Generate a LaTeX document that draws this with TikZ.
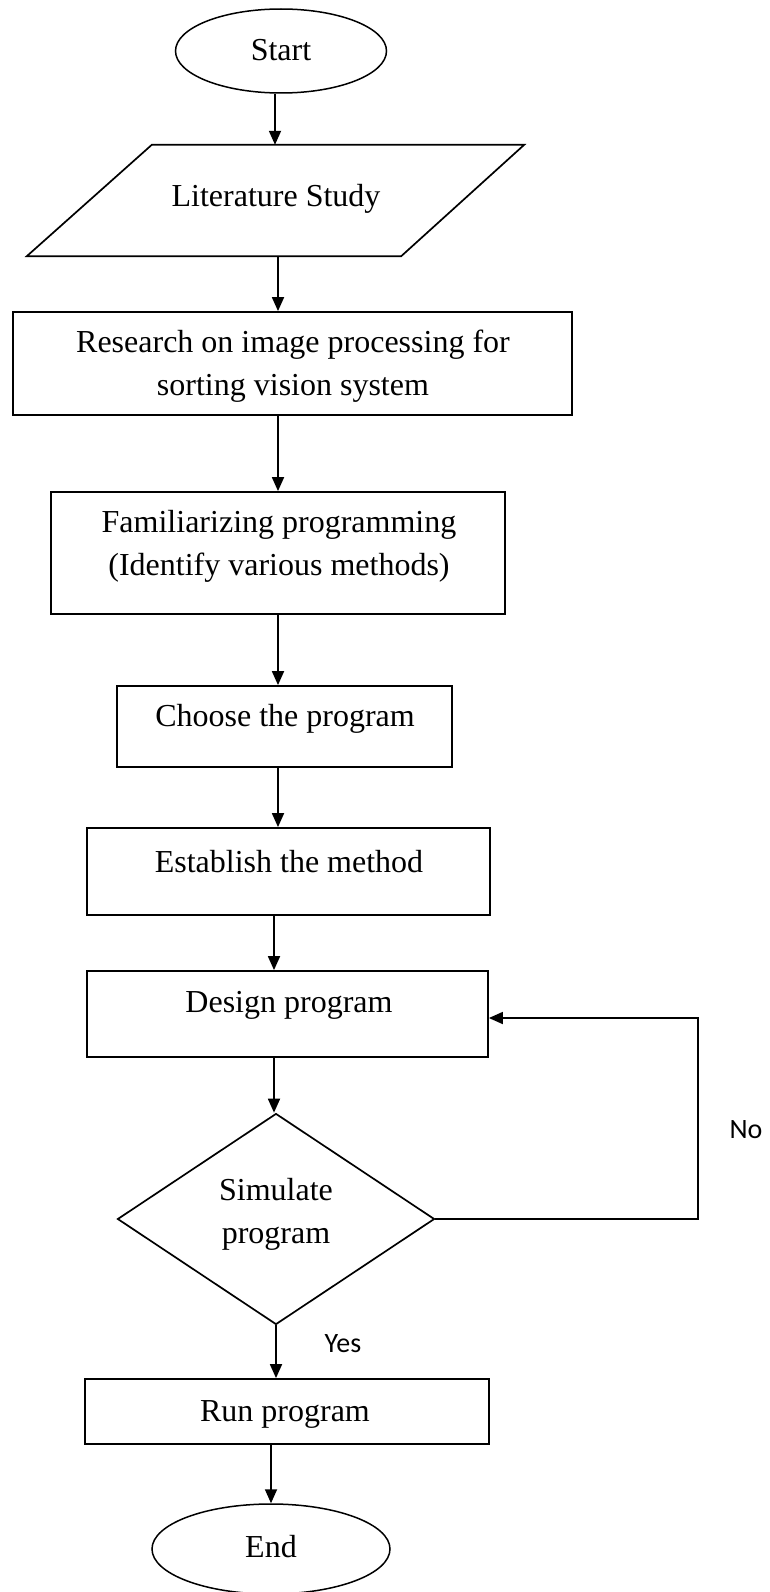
\documentclass[tikz,border=0pt]{standalone}
\usepackage{fontspec}
\setmainfont{Liberation Serif}
\newfontfamily\ynfont{Carlito}
\usetikzlibrary{arrows.meta,shapes.geometric}
\begin{document}
\begin{tikzpicture}[x=1pt,y=-1pt,
  term/.style={draw, ellipse, line width=1.5pt, inner sep=0pt},
  box/.style={draw, rectangle, line width=1.8pt, inner sep=0pt},
  dec/.style={draw, diamond, line width=1.7pt, inner sep=0pt},
  txt/.style={font=\fontsize{32}{43}\selectfont, align=center, inner sep=0pt},
  yn/.style={font=\ynfont\fontsize{28}{34}\selectfont, inner sep=0pt},
  arr/.style={line width=1.8pt, -{Triangle[length=14pt,width=12pt]}},
  flow/.style={line width=1.7pt}]
\useasboundingbox (0,0) rectangle (769,1592);
\fill[white] (0,0) rectangle (769,1592);

% shapes
\node[term, minimum width=211pt, minimum height=84pt] (start) at (281,51) {};
\node[inner sep=0pt, minimum width=497pt, minimum height=111pt] (lit) at (275.5,200.5) {};
\draw[flow] ([xshift=125pt]lit.north west) -- (lit.north east)
  -- ([xshift=-123pt]lit.south east) -- (lit.south west) -- cycle;
\node[box, minimum width=559pt, minimum height=103pt] (research) at (292.5,363.5) {};
\node[box, minimum width=454pt, minimum height=122pt] (fam) at (278,553) {};
\node[box, minimum width=335pt, minimum height=81pt] (choose) at (284.5,726.5) {};
\node[box, minimum width=403pt, minimum height=87pt] (establish) at (288.5,871.5) {};
\node[box, minimum width=401pt, minimum height=86pt] (design) at (287.5,1014) {};
\node[dec, minimum width=317pt, minimum height=211pt] (diam) at (276,1219) {};
\node[box, minimum width=404pt, minimum height=65pt] (run) at (287,1411.5) {};
\node[term, minimum width=238pt, minimum height=90pt] (end) at (271,1549) {};

% texts
\node[txt] (startT) at (281,50) {Start};
\node[txt] (litT) at (276,199) {Literature Study};
\node[txt] (researchT) at (293,366) {Research on image processing for\\sorting vision system};
\node[txt] (famT) at (279,546) {Familiarizing programming\\(Identify various methods)};
\node[txt] (chooseT) at (285,719) {Choose the program};
\node[txt] (establishT) at (289,862) {Establish the method};
\node[txt] (designT) at (289,1005) {Design program};
\node[txt] (diamT) at (276,1214) {Simulate\\program};
\node[txt] (runT) at (285,1414) {Run program};
\node[txt] (endT) at (271,1547) {End};
\node[yn] (yes) at (343,1344) {Yes};
\node[yn] (no) at (746,1130) {No};

% connectors
\draw[arr] ([xshift=-6pt]start.south) -- ([xshift=-6pt]start.south |- lit.north);
\draw[arr] ([xshift=2.5pt]lit.south) -- ([xshift=2.5pt]lit.south |- research.north);
\draw[arr] (fam.north |- research.south) -- (fam.north);
\draw[arr] (fam.south) -- (fam.south |- choose.north);
\draw[arr] (fam.south |- choose.south) -- (fam.south |- establish.north);
\draw[arr] ([xshift=-14.5pt]establish.south) -- ([xshift=-14.5pt]establish.south |- design.north);
\draw[arr] ([xshift=-2pt]diam.north |- design.south) -- ([xshift=-2pt]diam.north);
\draw[arr] (diam.south) -- (diam.south |- run.north);
\draw[arr] (end.north |- run.south) -- (end.north);
\coordinate (loop) at (698,1100);
\draw[arr] (diam.east) -| (loop) |- ([yshift=-4pt]design.east);
\end{tikzpicture}
\end{document}
